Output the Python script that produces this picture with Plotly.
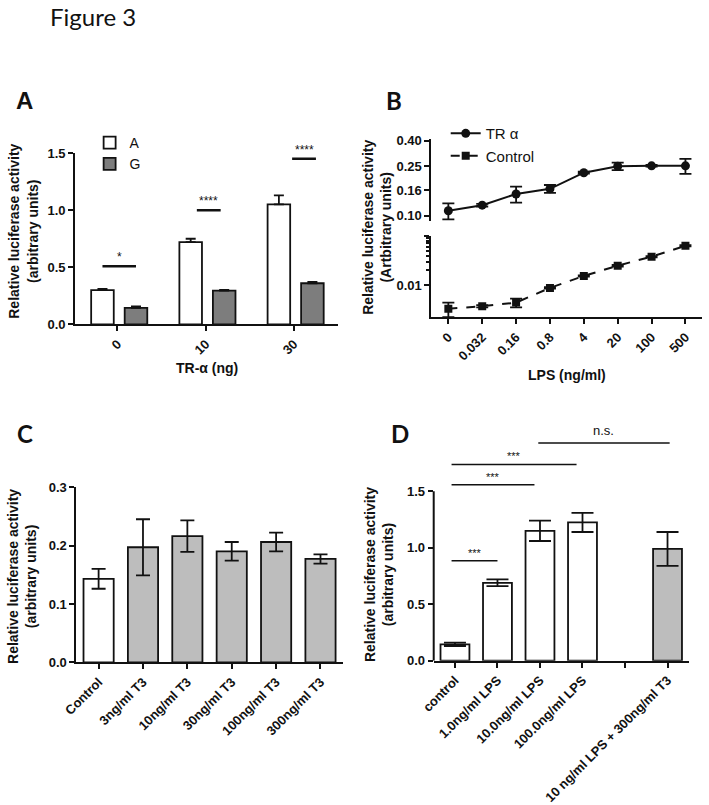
import math
import plotly.graph_objects as go

W, H = 709, 805


def px(x):
    # pixel position (as measured on the reference) -> paper fraction
    return (720 - (720 - x) / 0.98) / W


def py(y):
    return 1 - (356 + (y - 356) / 0.983) / H


# ---------------- Panel A data ----------------
a_groups = ["0", "10", "30"]
a_A = [0.30, 0.72, 1.05]
a_A_err = [0.010, 0.030, 0.080]
a_G = [0.145, 0.295, 0.360]
a_G_err = [0.012, 0.008, 0.012]
a_sig_text = ["*", "****", "****"]
a_sig_y = [0.51, 1.00, 1.45]
a_sig_x0 = [-0.17, -0.10, -0.02]
a_sig_x1 = [0.21, 0.17, 0.25]

# ---------------- Panel B data ----------------
b_lps = ["0", "0.032", "0.16", "0.8", "4", "20", "100", "500"]
b_tra = [0.110, 0.122, 0.150, 0.165, 0.222, 0.250, 0.252, 0.252]
b_tra_err = [0.016, 0.003, 0.022, 0.012, 0.004, 0.017, 0.004, 0.035]
b_ctrl = [0.0034, 0.0038, 0.0045, 0.0089, 0.0155, 0.025, 0.038, 0.063]
b_ctrl_err = [0.0011, 0.0002, 0.0009, 0.0003, 0.0005, 0.001, 0.001, 0.002]
b_upper_ticks = [0.10, 0.16, 0.25, 0.40]
b_upper_labels = ["0.10", "0.16", "0.25", "0.40"]
b_lower_ticks = [0.01, 0.1]
b_lower_labels = ["0.01", ""]
b_lower_minor = [0.02, 0.03, 0.04, 0.05, 0.06, 0.07, 0.08, 0.09]

# ---------------- Panel C data ----------------
c_cats = ["Control", "3ng/ml T3", "10ng/ml T3", "30ng/ml T3", "100ng/ml T3", "300ng/ml T3"]
c_vals = [0.143, 0.197, 0.216, 0.190, 0.206, 0.177]
c_err = [0.017, 0.048, 0.027, 0.016, 0.016, 0.008]

# ---------------- Panel D data ----------------
d_cats = ["control", "1.0ng/ml LPS", "10.0ng/ml LPS", "100.0ng/ml LPS", "", "10 ng/ml LPS + 300ng/ml T3"]
d_vals = [0.145, 0.69, 1.15, 1.225, None, 0.99]
d_err = [0.015, 0.03, 0.09, 0.085, None, 0.15]
d_sig_text = ["***", "***", "***", "n.s."]
d_sig_x0 = [-0.08, -0.08, -0.08, 1.96]
d_sig_x1 = [1.00, 1.87, 2.86, 5.05]
d_sig_y = [0.885, 1.558, 1.738, 1.928]

FONT = "Liberation Sans"
BLACK = "#111111"
GREY_DARK = "#7d7d7d"
GREY_LIGHT = "#bdbdbd"

fig = go.Figure()

# ---- Panel A bars ----
ax = list(range(len(a_groups)))
fig.add_trace(go.Bar(
    x=ax, y=a_A, name="A", width=0.256, offset=-0.298,
    marker=dict(color="white", line=dict(color=BLACK, width=1.8)),
    error_y=dict(type="data", array=a_A_err, arrayminus=[0] * 3, symmetric=False,
                 color=BLACK, thickness=1.8, width=5),
    xaxis="x", yaxis="y", legend="legend"))
fig.add_trace(go.Bar(
    x=ax, y=a_G, name="G", width=0.256, offset=0.082,
    marker=dict(color=GREY_DARK, line=dict(color=BLACK, width=1.8)),
    error_y=dict(type="data", array=a_G_err, arrayminus=[0] * 3, symmetric=False,
                 color=BLACK, thickness=1.8, width=5),
    xaxis="x", yaxis="y", legend="legend"))

# ---- Panel B lines ----
bx = list(range(len(b_lps)))
fig.add_trace(go.Scatter(
    x=bx, y=b_tra, name="TR \u03b1", mode="lines+markers",
    line=dict(color=BLACK, width=2),
    marker=dict(symbol="circle", size=9, color=BLACK),
    error_y=dict(type="data", array=b_tra_err, color=BLACK, thickness=1.8, width=6),
    xaxis="x3", yaxis="y3", legend="legend2"))
fig.add_trace(go.Scatter(
    x=bx, y=b_ctrl, name="Control", mode="lines+markers",
    line=dict(color=BLACK, width=2, dash="dash"),
    marker=dict(symbol="square", size=8, color=BLACK),
    error_y=dict(type="data", array=b_ctrl_err, color=BLACK, thickness=1.8, width=6),
    xaxis="x2", yaxis="y2", legend="legend2"))

# ---- Panel C bars ----
cx = list(range(len(c_cats)))
fig.add_trace(go.Bar(
    x=cx, y=c_vals, width=0.68, showlegend=False,
    marker=dict(color=["white"] + [GREY_LIGHT] * (len(c_cats) - 1),
                line=dict(color=BLACK, width=1.8)),
    error_y=dict(type="data", array=c_err, color=BLACK, thickness=1.8, width=7),
    xaxis="x4", yaxis="y4"))

# ---- Panel D bars ----
dx = list(range(len(d_cats)))
fig.add_trace(go.Bar(
    x=dx, y=d_vals, width=0.68, showlegend=False,
    marker=dict(color=["white"] * 4 + ["white", GREY_LIGHT],
                line=dict(color=BLACK, width=1.8)),
    error_y=dict(type="data", array=d_err, color=BLACK, thickness=1.8, width=11),
    xaxis="x5", yaxis="y5"))

tickfont = dict(family=FONT, size=13, color=BLACK, weight="bold")
common_axis = dict(showgrid=False, zeroline=False, showline=True, linecolor=BLACK,
                   linewidth=2, ticks="outside", ticklen=5, tickwidth=2,
                   tickcolor=BLACK, tickfont=tickfont)

fig.update_layout(
    # Panel A
    xaxis=dict(common_axis, domain=[px(75.5), px(338.3)], range=[-0.48, 2.5],
               tickvals=ax, ticktext=a_groups, tickangle=-45, anchor="y"),
    yaxis=dict(common_axis, domain=[py(326), py(153.3)], range=[0, 1.5],
               tickvals=[0, 0.5, 1.0, 1.5], tickformat=".1f", anchor="x"),
    # Panel B lower
    xaxis2=dict(common_axis, domain=[px(431.7), px(702.6)], range=[-0.5, 7.5],
                tickvals=bx, ticktext=b_lps, tickangle=-45, anchor="y2"),
    yaxis2=dict(common_axis, domain=[py(319), py(236.7)], type="log",
                range=[math.log10(0.00226), -1], tickvals=b_lower_ticks,
                ticktext=b_lower_labels, anchor="x2",
                minor=dict(tickvals=b_lower_minor, ticks="outside", ticklen=3,
                           tickwidth=1.5, tickcolor=BLACK)),
    # Panel B upper
    xaxis3=dict(domain=[px(431.7), px(702.6)], range=[-0.5, 7.5], visible=False,
                anchor="y3", matches="x2"),
    yaxis3=dict(common_axis, domain=[py(221.7), py(139.3)], type="log",
                range=[-1.04, -0.385], tickvals=b_upper_ticks,
                ticktext=b_upper_labels, anchor="x3"),
    # Panel C
    xaxis4=dict(common_axis, domain=[px(76.8), px(343)], range=[-0.5, 5.5],
                tickvals=cx, ticktext=c_cats, tickangle=-45, anchor="y4"),
    yaxis4=dict(common_axis, domain=[py(666.7), py(490)], range=[0, 0.3],
                tickvals=[0, 0.1, 0.2, 0.3], tickformat=".1f", anchor="x4"),
    # Panel D
    xaxis5=dict(common_axis, domain=[px(434), px(689)], range=[-0.5, 5.5],
                tickvals=dx, ticktext=d_cats, tickangle=-45, anchor="y5"),
    yaxis5=dict(common_axis, domain=[py(665), py(426)], range=[0, 2.1], showline=False,
                tickvals=[0, 0.5, 1.0, 1.5], tickformat=".1f", anchor="x5"),
)

shapes = []
annotations = []

# D y-axis line only up to 1.5
shapes.append(dict(type="line", xref="x5 domain", yref="y5", x0=0, x1=0, y0=0, y1=1.5,
                   line=dict(color=BLACK, width=2)))

# Panel A significance bars
for i, (t, y, x0, x1) in enumerate(zip(a_sig_text, a_sig_y, a_sig_x0, a_sig_x1)):
    shapes.append(dict(type="line", xref="x", yref="y", x0=i + x0, x1=i + x1, y0=y, y1=y,
                       line=dict(color=BLACK, width=2.5)))
    annotations.append(dict(xref="x", yref="y", x=i + (x0 + x1) / 2, y=y, text=t,
                            showarrow=False, yanchor="bottom", yshift=0,
                            font=dict(family=FONT, size=12, color=BLACK)))

# Panel D significance bars
for t, y, x0, x1 in zip(d_sig_text, d_sig_y, d_sig_x0, d_sig_x1):
    shapes.append(dict(type="line", xref="x5", yref="y5", x0=x0, x1=x1, y0=y, y1=y,
                       line=dict(color=BLACK, width=1.5)))
    annotations.append(dict(xref="x5", yref="y5", x=(x0 + x1) / 2, y=y, text=t,
                            showarrow=False, yanchor="bottom", yshift=3 if t == "n.s." else 0,
                            font=dict(family=FONT, size=13 if t == "n.s." else 11, color=BLACK)))

ylab_font = dict(family=FONT, size=14, color=BLACK, weight="bold")
ytitle = "Relative luciferase activity<br>(arbitrary units)"
for x, y, txt in [(24, 232, ytitle),
                  (377, 228, "Relative luciferase activity<br>(Artbitrary units)"),
                  (23, 580, ytitle),
                  (380, 578, ytitle)]:
    annotations.append(dict(xref="paper", yref="paper", x=px(x), y=py(y), text=txt,
                            textangle=-90, showarrow=False, xanchor="center",
                            yanchor="middle", font=ylab_font))

# x-axis titles
annotations.append(dict(xref="paper", yref="paper", x=px(207), y=py(370),
                        text="TR-\u03b1 (ng)", showarrow=False, xanchor="center",
                        yanchor="middle", font=dict(family=FONT, size=14, color=BLACK, weight="bold")))
annotations.append(dict(xref="paper", yref="paper", x=px(567), y=py(377),
                        text="LPS (ng/ml)", showarrow=False, xanchor="center",
                        yanchor="middle", font=dict(family=FONT, size=14, color=BLACK, weight="bold")))

# Panel letters and figure title
for x, y, t, fam in [(25, 100, "A", FONT), (394, 100, "B", "Lato"),
                     (25, 436, "C", "Lato"), (400, 436, "D", "Lato")]:
    annotations.append(dict(xref="paper", yref="paper", x=px(x), y=py(y), text=t,
                            showarrow=False, xanchor="center", yanchor="middle",
                            font=dict(family=fam, size=24, color=BLACK, weight="bold")))
annotations.append(dict(xref="paper", yref="paper", x=px(93), y=py(16), text="Figure 3",
                        showarrow=False, xanchor="center", yanchor="middle",
                        font=dict(family="Lato", size=24, color=BLACK)))

fig.update_layout(
    width=W, height=H, margin=dict(l=0, r=0, t=0, b=0),
    paper_bgcolor="white", plot_bgcolor="white",
    barmode="overlay",
    shapes=shapes, annotations=annotations,
    legend=dict(x=px(90), y=py(127), xanchor="left", yanchor="top",
                font=dict(family=FONT, size=14, color=BLACK),
                bgcolor="rgba(0,0,0,0)", tracegroupgap=0),
    legend2=dict(x=px(446), y=py(117), xanchor="left", yanchor="top",
                 font=dict(family=FONT, size=15, color=BLACK), itemwidth=30,
                 bgcolor="rgba(0,0,0,0)"),
)

fig.write_html("out.html", config={"displayModeBar": False},
               post_script="document.body.style.margin='0px';document.body.style.overflow='hidden';")
